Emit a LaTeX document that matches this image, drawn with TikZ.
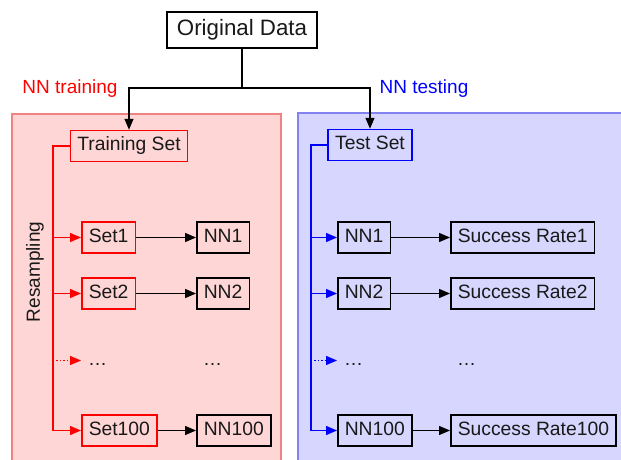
\documentclass[tikz,border=0pt]{standalone}
\usepackage{fontspec}
\setmainfont{Liberation Sans}
\usetikzlibrary{arrows.meta,calc}
\definecolor{redfill}{RGB}{255,214,214}
\definecolor{rededge}{RGB}{240,130,130}
\definecolor{bluefill}{RGB}{214,214,255}
\definecolor{blueedge}{RGB}{130,130,240}
\definecolor{txt}{RGB}{25,25,25}
\tikzset{
  box/.style={draw=black, line width=1.5pt, minimum height=31pt, inner xsep=7pt, inner ysep=0pt,
    text height=13.5pt, text depth=4pt, font=\fontsize{19.3}{22}\selectfont, text=txt, anchor=west},
  redbox/.style={box, draw=red},
  bluebox/.style={box, draw=blue},
  dotsnode/.style={inner xsep=7pt, inner ysep=0pt, text height=13.5pt, text depth=4pt,
    font=\fontsize{19}{22}\selectfont, text=txt, anchor=west},
  conn/.style={line width=1.4pt, -{Triangle[length=11pt,width=9pt]}},
  lbl/.style={font=\fontsize{19}{22}\selectfont},
}
\begin{document}
\begin{tikzpicture}[x=1pt,y=-1pt]
\useasboundingbox (0,0) rectangle (621,460);
\clip (0,0) rectangle (621,460);
% panels
\path[fill=redfill, draw=rededge, line width=1.2pt] (12,114) rectangle (281,470);
\path[fill=bluefill, draw=blueedge, line width=1.2pt] (298,113) rectangle (630,470);
% top
\node[box, anchor=center, fill=white, minimum width=150pt, minimum height=36pt,
  font=\fontsize{22.3}{26}\selectfont, text height=16pt, text depth=4.5pt] (orig) at (242,30) {Original Data};
\node[lbl, text=red] (lt) at (70,89) {NN training};
\node[lbl, text=blue] (rt) at (424,89) {NN testing};
% left column
\node[redbox, anchor=center] (train) at (129,146) {Training Set};
\node[redbox] (s1) at (81,237.5) {Set1};
\node[redbox] (s2) at (81,293.5) {Set2};
\node[dotsnode] (sd) at (81,360.5) {…};
\node[redbox] (s100) at (81,430.5) {Set100};
\node[box] (n1) at (196,237.5) {NN1};
\node[box] (n2) at (196,293.5) {NN2};
\node[dotsnode] (nd) at (196,360.5) {…};
\node[box] (n100) at (196,430.5) {NN100};
\node[lbl, rotate=90, text=txt] (res) at (35,272) {Resampling};
% right column
\node[bluebox, anchor=center] (test) at (370,145) {Test Set};
\node[box] (m1) at (337,237.5) {NN1};
\node[box] (m2) at (337,293.5) {NN2};
\node[dotsnode] (md) at (337,360.5) {…};
\node[box] (m100) at (337,430.5) {NN100};
\node[box] (r1) at (450,237.5) {Success Rate1};
\node[box] (r2) at (450,293.5) {Success Rate2};
\node[dotsnode] (rd) at (450,360.5) {…};
\node[box] (r100) at (450,430.5) {Success Rate100};
% split connectors
\coordinate (split) at (242,88);
\coordinate (lrail) at (53,146);
\coordinate (rrail) at (311,145);
\draw[line width=1.4pt] (orig.south) -- (split);
\draw[conn] (split) -| (train.north);
\draw[conn] (split) -| (test.north);
% red rail
\draw[red, line width=1.4pt] (train.west) -| (lrail |- s100.west);
\draw[red, conn] (lrail |- s1.west) -- (s1.west);
\draw[red, conn] (lrail |- s2.west) -- (s2.west);
\draw[red, conn, dotted] (lrail |- sd.west) -- (sd.west);
\draw[red, conn] (lrail |- s100.west) -- (s100.west);
% blue rail
\draw[blue, line width=1.4pt] (test.west) -| (rrail |- m100.west);
\draw[blue, conn] (rrail |- m1.west) -- (m1.west);
\draw[blue, conn] (rrail |- m2.west) -- (m2.west);
\draw[blue, conn, dotted] (rrail |- md.west) -- (md.west);
\draw[blue, conn] (rrail |- m100.west) -- (m100.west);
% black arrows
\draw[conn] (s1) -- (n1);
\draw[conn] (s2) -- (n2);
\draw[conn] (s100) -- (n100);
\draw[conn] (m1) -- (r1);
\draw[conn] (m2) -- (r2);
\draw[conn] (m100) -- (r100);
\end{tikzpicture}
\end{document}
